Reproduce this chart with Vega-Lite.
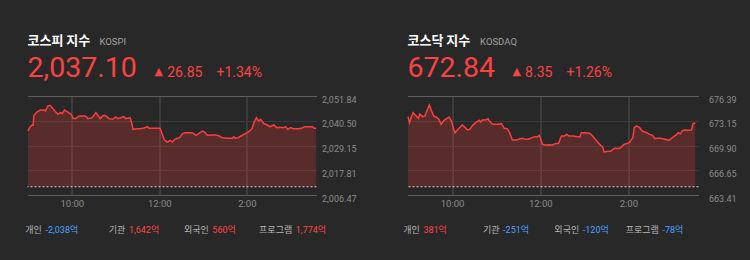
{
  "$schema": "https://vega.github.io/schema/vega-lite/v6.json",
  "background": "#282828",
  "padding": {"left": 24.5, "top": 35, "right": 20, "bottom": 32},
  "autosize": {"type": "pad"},
  "config": {
    "view": {"stroke": null},
    "text": {"font": "Roboto, Noto Sans CJK KR"}
  },
  "datasets": {
    "kospi": [
      {"time":"2019-09-04T09:00","value":2035.80},{"time":"2019-09-04T09:02","value":2037.33},{"time":"2019-09-04T09:05","value":2038.40},{"time":"2019-09-04T09:07","value":2038.40},{"time":"2019-09-04T09:08","value":2042.98},{"time":"2019-09-04T09:12","value":2044.51},{"time":"2019-09-04T09:17","value":2045.42},{"time":"2019-09-04T09:22","value":2045.42},{"time":"2019-09-04T09:24","value":2044.97},{"time":"2019-09-04T09:27","value":2047.26},{"time":"2019-09-04T09:30","value":2047.56},{"time":"2019-09-04T09:33","value":2046.49},{"time":"2019-09-04T09:38","value":2044.51},{"time":"2019-09-04T09:41","value":2043.44},{"time":"2019-09-04T09:44","value":2044.20},{"time":"2019-09-04T09:47","value":2043.90},{"time":"2019-09-04T09:50","value":2045.42},{"time":"2019-09-04T09:54","value":2044.51},{"time":"2019-09-04T09:59","value":2043.44},{"time":"2019-09-04T10:02","value":2041.60},{"time":"2019-09-04T10:05","value":2041.45},{"time":"2019-09-04T10:10","value":2042.67},{"time":"2019-09-04T10:17","value":2042.67},{"time":"2019-09-04T10:20","value":2042.37},{"time":"2019-09-04T10:22","value":2041.45},{"time":"2019-09-04T10:28","value":2041.91},{"time":"2019-09-04T10:33","value":2044.20},{"time":"2019-09-04T10:36","value":2042.98},{"time":"2019-09-04T10:39","value":2041.45},{"time":"2019-09-04T10:42","value":2042.67},{"time":"2019-09-04T10:45","value":2042.98},{"time":"2019-09-04T10:48","value":2042.37},{"time":"2019-09-04T10:51","value":2041.45},{"time":"2019-09-04T10:56","value":2041.15},{"time":"2019-09-04T11:00","value":2042.22},{"time":"2019-09-04T11:03","value":2041.45},{"time":"2019-09-04T11:07","value":2041.91},{"time":"2019-09-04T11:11","value":2042.37},{"time":"2019-09-04T11:14","value":2041.45},{"time":"2019-09-04T11:18","value":2041.76},{"time":"2019-09-04T11:20","value":2041.91},{"time":"2019-09-04T11:22","value":2039.62},{"time":"2019-09-04T11:24","value":2036.56},{"time":"2019-09-04T11:30","value":2036.87},{"time":"2019-09-04T11:34","value":2036.87},{"time":"2019-09-04T11:39","value":2037.17},{"time":"2019-09-04T11:44","value":2037.79},{"time":"2019-09-04T11:46","value":2037.02},{"time":"2019-09-04T11:50","value":2037.02},{"time":"2019-09-04T11:57","value":2037.02},{"time":"2019-09-04T12:01","value":2037.02},{"time":"2019-09-04T12:04","value":2034.27},{"time":"2019-09-04T12:07","value":2031.68},{"time":"2019-09-04T12:11","value":2030.76},{"time":"2019-09-04T12:15","value":2031.52},{"time":"2019-09-04T12:18","value":2030.76},{"time":"2019-09-04T12:21","value":2031.98},{"time":"2019-09-04T12:25","value":2032.44},{"time":"2019-09-04T12:28","value":2032.74},{"time":"2019-09-04T12:32","value":2034.73},{"time":"2019-09-04T12:36","value":2035.04},{"time":"2019-09-04T12:43","value":2035.04},{"time":"2019-09-04T12:47","value":2034.73},{"time":"2019-09-04T12:50","value":2033.81},{"time":"2019-09-04T12:54","value":2034.58},{"time":"2019-09-04T12:59","value":2035.80},{"time":"2019-09-04T13:02","value":2035.34},{"time":"2019-09-04T13:06","value":2033.81},{"time":"2019-09-04T13:13","value":2033.97},{"time":"2019-09-04T13:17","value":2033.97},{"time":"2019-09-04T13:22","value":2033.51},{"time":"2019-09-04T13:26","value":2032.74},{"time":"2019-09-04T13:33","value":2032.44},{"time":"2019-09-04T13:40","value":2032.44},{"time":"2019-09-04T13:42","value":2033.20},{"time":"2019-09-04T13:45","value":2032.44},{"time":"2019-09-04T13:48","value":2032.74},{"time":"2019-09-04T13:52","value":2033.51},{"time":"2019-09-04T13:58","value":2034.58},{"time":"2019-09-04T14:04","value":2035.80},{"time":"2019-09-04T14:07","value":2036.87},{"time":"2019-09-04T14:10","value":2039.92},{"time":"2019-09-04T14:13","value":2041.91},{"time":"2019-09-04T14:16","value":2040.38},{"time":"2019-09-04T14:19","value":2041.15},{"time":"2019-09-04T14:23","value":2039.31},{"time":"2019-09-04T14:28","value":2038.55},{"time":"2019-09-04T14:32","value":2037.79},{"time":"2019-09-04T14:37","value":2038.55},{"time":"2019-09-04T14:41","value":2037.33},{"time":"2019-09-04T14:45","value":2037.48},{"time":"2019-09-04T14:50","value":2037.33},{"time":"2019-09-04T14:53","value":2037.79},{"time":"2019-09-04T14:56","value":2036.56},{"time":"2019-09-04T15:00","value":2037.33},{"time":"2019-09-04T15:04","value":2036.87},{"time":"2019-09-04T15:11","value":2036.87},{"time":"2019-09-04T15:16","value":2037.17},{"time":"2019-09-04T15:19","value":2037.79},{"time":"2019-09-04T15:25","value":2037.79},{"time":"2019-09-04T15:30","value":2037.79},{"time":"2019-09-04T15:32","value":2037.02},{"time":"2019-09-04T15:35","value":2037.10}
    ],
    "kosdaq": [
      {"time":"2019-09-04T09:00","value":673.68},{"time":"2019-09-04T09:02","value":672.89},{"time":"2019-09-04T09:04","value":673.55},{"time":"2019-09-04T09:07","value":674.20},{"time":"2019-09-04T09:11","value":673.77},{"time":"2019-09-04T09:14","value":673.46},{"time":"2019-09-04T09:16","value":674.03},{"time":"2019-09-04T09:20","value":673.68},{"time":"2019-09-04T09:23","value":673.77},{"time":"2019-09-04T09:25","value":674.29},{"time":"2019-09-04T09:29","value":675.21},{"time":"2019-09-04T09:32","value":674.42},{"time":"2019-09-04T09:35","value":673.77},{"time":"2019-09-04T09:38","value":673.64},{"time":"2019-09-04T09:42","value":673.33},{"time":"2019-09-04T09:45","value":672.68},{"time":"2019-09-04T09:49","value":673.20},{"time":"2019-09-04T09:53","value":673.46},{"time":"2019-09-04T09:56","value":673.64},{"time":"2019-09-04T09:59","value":673.11},{"time":"2019-09-04T10:02","value":672.11},{"time":"2019-09-04T10:04","value":671.58},{"time":"2019-09-04T10:08","value":672.02},{"time":"2019-09-04T10:14","value":672.59},{"time":"2019-09-04T10:18","value":672.24},{"time":"2019-09-04T10:21","value":671.93},{"time":"2019-09-04T10:24","value":672.02},{"time":"2019-09-04T10:28","value":672.54},{"time":"2019-09-04T10:32","value":672.89},{"time":"2019-09-04T10:37","value":673.20},{"time":"2019-09-04T10:39","value":672.98},{"time":"2019-09-04T10:41","value":673.24},{"time":"2019-09-04T10:46","value":673.29},{"time":"2019-09-04T10:49","value":673.42},{"time":"2019-09-04T10:50","value":673.20},{"time":"2019-09-04T10:54","value":672.76},{"time":"2019-09-04T10:57","value":672.68},{"time":"2019-09-04T11:03","value":672.68},{"time":"2019-09-04T11:07","value":672.76},{"time":"2019-09-04T11:11","value":672.15},{"time":"2019-09-04T11:15","value":672.11},{"time":"2019-09-04T11:18","value":671.67},{"time":"2019-09-04T11:22","value":670.62},{"time":"2019-09-04T11:28","value":670.62},{"time":"2019-09-04T11:31","value":670.71},{"time":"2019-09-04T11:36","value":670.84},{"time":"2019-09-04T11:39","value":670.71},{"time":"2019-09-04T11:43","value":670.71},{"time":"2019-09-04T11:47","value":670.84},{"time":"2019-09-04T11:52","value":671.06},{"time":"2019-09-04T11:56","value":671.02},{"time":"2019-09-04T11:59","value":671.23},{"time":"2019-09-04T12:03","value":670.05},{"time":"2019-09-04T12:07","value":669.97},{"time":"2019-09-04T12:12","value":670.01},{"time":"2019-09-04T12:17","value":669.97},{"time":"2019-09-04T12:20","value":670.14},{"time":"2019-09-04T12:25","value":670.19},{"time":"2019-09-04T12:27","value":670.71},{"time":"2019-09-04T12:29","value":671.15},{"time":"2019-09-04T12:33","value":671.15},{"time":"2019-09-04T12:36","value":671.36},{"time":"2019-09-04T12:39","value":671.15},{"time":"2019-09-04T12:45","value":671.15},{"time":"2019-09-04T12:51","value":671.06},{"time":"2019-09-04T12:54","value":671.02},{"time":"2019-09-04T12:56","value":671.58},{"time":"2019-09-04T13:00","value":671.58},{"time":"2019-09-04T13:07","value":671.50},{"time":"2019-09-04T13:10","value":671.28},{"time":"2019-09-04T13:15","value":670.71},{"time":"2019-09-04T13:18","value":670.36},{"time":"2019-09-04T13:21","value":670.05},{"time":"2019-09-04T13:25","value":669.70},{"time":"2019-09-04T13:27","value":669.05},{"time":"2019-09-04T13:32","value":669.14},{"time":"2019-09-04T13:36","value":669.14},{"time":"2019-09-04T13:39","value":669.40},{"time":"2019-09-04T13:42","value":669.57},{"time":"2019-09-04T13:47","value":669.48},{"time":"2019-09-04T13:51","value":669.75},{"time":"2019-09-04T13:54","value":670.05},{"time":"2019-09-04T13:59","value":670.19},{"time":"2019-09-04T14:02","value":670.36},{"time":"2019-09-04T14:06","value":670.93},{"time":"2019-09-04T14:08","value":672.24},{"time":"2019-09-04T14:11","value":672.46},{"time":"2019-09-04T14:15","value":672.28},{"time":"2019-09-04T14:19","value":671.80},{"time":"2019-09-04T14:25","value":671.58},{"time":"2019-09-04T14:29","value":671.36},{"time":"2019-09-04T14:33","value":671.23},{"time":"2019-09-04T14:36","value":670.80},{"time":"2019-09-04T14:40","value":670.84},{"time":"2019-09-04T14:44","value":670.84},{"time":"2019-09-04T14:50","value":670.71},{"time":"2019-09-04T14:55","value":670.58},{"time":"2019-09-04T15:00","value":670.93},{"time":"2019-09-04T15:05","value":671.28},{"time":"2019-09-04T15:08","value":671.58},{"time":"2019-09-04T15:11","value":671.45},{"time":"2019-09-04T15:13","value":671.80},{"time":"2019-09-04T15:16","value":671.93},{"time":"2019-09-04T15:21","value":671.89},{"time":"2019-09-04T15:26","value":671.93},{"time":"2019-09-04T15:28","value":672.76},{"time":"2019-09-04T15:31","value":672.84}
    ],
    "kospiInfo": [{"name":"코스피 지수","code":"KOSPI","close":2037.10,"change":26.85,"pct":0.0134}],
    "kosdaqInfo": [{"name":"코스닥 지수","code":"KOSDAQ","close":672.84,"change":8.35,"pct":0.0126}],
    "kospiFlow": [
      {"investor":"개인","amount":-2038,"flow":"-2,038억"},
      {"investor":"기관","amount":1642,"flow":"1,642억"},
      {"investor":"외국인","amount":560,"flow":"560억"},
      {"investor":"프로그램","amount":1774,"flow":"1,774억"}
    ],
    "kosdaqFlow": [
      {"investor":"개인","amount":381,"flow":"381억"},
      {"investor":"기관","amount":-251,"flow":"-251억"},
      {"investor":"외국인","amount":-120,"flow":"-120억"},
      {"investor":"프로그램","amount":-78,"flow":"-78억"}
    ]
  },
  "spacing": 46,
  "hconcat": [
    {
      "spacing": 17,
      "vconcat": [
        {
          "width": 289,
          "height": 99,
          "layer": [
            {
              "data": {"name": "kospi"},
              "mark": {"type": "area", "fill": "#ff3c3c", "fillOpacity": 0.23},
              "encoding": {
                "x": {"field": "time", "type": "temporal",
                  "scale": {"domain": [{"year":2019,"month":9,"date":4,"hours":8,"minutes":59,"seconds":15},{"year":2019,"month":9,"date":4,"hours":15,"minutes":35,"seconds":30}]},
                  "axis": {"values": [{"year":2019,"month":9,"date":4,"hours":10},{"year":2019,"month":9,"date":4,"hours":12},{"year":2019,"month":9,"date":4,"hours":14}],
                    "format": "%-I:%M", "title": null, "grid": true, "gridColor": "#505050", "domain": false, "ticks": false, "tickCount": 10,
                    "labelColor": "#8c8c8c", "labelFont": "Roboto", "labelFontSize": 9.5, "labelPadding": 3}},
                "y": {"field": "value", "type": "quantitative",
                  "scale": {"domain": [2006.47, 2051.84], "zero": false, "nice": false},
                  "axis": {"orient": "right", "values": [2006.47, 2017.81, 2029.15, 2040.50, 2051.84], "tickCount": 10, "format": ",.2f", "title": null, "labelOverlap": false,
                    "grid": true, "gridColor": {"condition": {"test": "datum.value < 2006.5 || datum.value > 2051.8", "value": "#5e5e5e"}, "value": "#3a3a3a"},
                    "domain": false, "ticks": false, "labelColor": "#8c8c8c", "labelFont": "Roboto", "labelFontSize": 9, "labelPadding": 5, "labelOffset": 3}},
                "y2": {"datum": 2010.25}
              }
            },
            {
              "data": {"name": "kospi"},
              "mark": {"type": "line", "color": "#ff3d3d", "strokeWidth": 1.5},
              "encoding": {
                "x": {"field": "time", "type": "temporal"},
                "y": {"field": "value", "type": "quantitative"}
              }
            },
            {
              "data": {"values": [{}]},
              "mark": {"type": "rule", "color": "#e6cccc", "strokeWidth": 1, "strokeDash": [2, 2]},
              "encoding": {"y": {"datum": 2010.25}}
            },
            {
              "data": {"name": "kospiInfo"},
              "mark": {"type": "text", "align": "left", "baseline": "alphabetic", "dy": -51, "font": "Noto Sans CJK KR", "fontWeight": "bold", "fontSize": 13, "color": "#ffffff"},
              "encoding": {"x": {"datum": {"year":2019,"month":9,"date":4,"hours":8,"minutes":59,"seconds":15}, "type": "temporal"}, "y": {"datum": 2051.84}, "text": {"field": "name"}}
            },
            {
              "data": {"name": "kospiInfo"},
              "mark": {"type": "text", "align": "left", "baseline": "alphabetic", "dx": 72, "dy": -51, "font": "Roboto", "fontSize": 9.5, "color": "#a0a0a0"},
              "encoding": {"x": {"datum": {"year":2019,"month":9,"date":4,"hours":8,"minutes":59,"seconds":15}, "type": "temporal"}, "y": {"datum": 2051.84}, "text": {"field": "code"}}
            },
            {
              "data": {"name": "kospiInfo"},
              "mark": {"type": "text", "align": "left", "baseline": "alphabetic", "dy": -19, "font": "Roboto", "fontSize": 28.5, "color": "#ff4242"},
              "encoding": {"x": {"datum": {"year":2019,"month":9,"date":4,"hours":8,"minutes":59,"seconds":15}, "type": "temporal"}, "y": {"datum": 2051.84}, "text": {"field": "close", "format": ",.2f"}}
            },
            {
              "data": {"name": "kospiInfo"},
              "mark": {"type": "text", "align": "left", "baseline": "alphabetic", "dx": 127, "dy": -21, "font": "DejaVu Sans", "fontSize": 11, "color": "#ff4242", "text": "▲"},
              "encoding": {"x": {"datum": {"year":2019,"month":9,"date":4,"hours":8,"minutes":59,"seconds":15}, "type": "temporal"}, "y": {"datum": 2051.84}}
            },
            {
              "data": {"name": "kospiInfo"},
              "mark": {"type": "text", "align": "left", "baseline": "alphabetic", "dx": 139.7, "dy": -19, "font": "Roboto", "fontSize": 14, "color": "#ff4242"},
              "encoding": {"x": {"datum": {"year":2019,"month":9,"date":4,"hours":8,"minutes":59,"seconds":15}, "type": "temporal"}, "y": {"datum": 2051.84}, "text": {"field": "change", "format": ".2f"}}
            },
            {
              "data": {"name": "kospiInfo"},
              "mark": {"type": "text", "align": "left", "baseline": "alphabetic", "dx": 189, "dy": -19, "font": "Roboto", "fontSize": 14, "color": "#ff4242"},
              "encoding": {"x": {"datum": {"year":2019,"month":9,"date":4,"hours":8,"minutes":59,"seconds":15}, "type": "temporal"}, "y": {"datum": 2051.84}, "text": {"field": "pct", "format": "+.2%"}}
            }
          ]
        },
        {
          "width": 282.7,
          "height": 10,
          "data": {"name": "kospiFlow"},
          "encoding": {"x": {"field": "investor", "type": "nominal", "sort": null, "scale": {"type": "point", "padding": 0.194}, "axis": null}},
          "layer": [
            {"mark": {"type": "text", "align": "right", "baseline": "middle", "dx": -1.8, "font": "Noto Sans CJK KR", "fontSize": 9, "color": "#b4b4b4"},
             "encoding": {"text": {"field": "investor"}}},
            {"mark": {"type": "text", "align": "left", "baseline": "middle", "dx": 1.8, "fontSize": 9},
             "encoding": {"text": {"field": "flow"}, "color": {"condition": {"test": "datum.amount < 0", "value": "#4aa3ff"}, "value": "#ff4545"}}}
          ]
        }
      ]
    },
    {
      "spacing": 17,
      "vconcat": [
        {
          "width": 291,
          "height": 99,
          "layer": [
            {
              "data": {"name": "kosdaq"},
              "mark": {"type": "area", "fill": "#ff3c3c", "fillOpacity": 0.23},
              "encoding": {
                "x": {"field": "time", "type": "temporal",
                  "scale": {"domain": [{"year":2019,"month":9,"date":4,"hours":8,"minutes":59,"seconds":15},{"year":2019,"month":9,"date":4,"hours":15,"minutes":35,"seconds":30}]},
                  "axis": {"values": [{"year":2019,"month":9,"date":4,"hours":10},{"year":2019,"month":9,"date":4,"hours":12},{"year":2019,"month":9,"date":4,"hours":14}],
                    "format": "%-I:%M", "title": null, "grid": true, "gridColor": "#505050", "domain": false, "ticks": false, "tickCount": 10,
                    "labelColor": "#8c8c8c", "labelFont": "Roboto", "labelFontSize": 9.5, "labelPadding": 3}},
                "y": {"field": "value", "type": "quantitative",
                  "scale": {"domain": [663.41, 676.39], "zero": false, "nice": false},
                  "axis": {"orient": "right", "values": [663.41, 666.65, 669.90, 673.15, 676.39], "tickCount": 10, "format": ".2f", "title": null, "labelOverlap": false,
                    "grid": true, "gridColor": {"condition": {"test": "datum.value < 663.5 || datum.value > 676.3", "value": "#5e5e5e"}, "value": "#3a3a3a"},
                    "domain": false, "ticks": false, "labelColor": "#8c8c8c", "labelFont": "Roboto", "labelFontSize": 9, "labelPadding": 10, "labelOffset": 3}},
                "y2": {"datum": 664.49}
              }
            },
            {
              "data": {"name": "kosdaq"},
              "mark": {"type": "line", "color": "#ff3d3d", "strokeWidth": 1.5},
              "encoding": {
                "x": {"field": "time", "type": "temporal"},
                "y": {"field": "value", "type": "quantitative"}
              }
            },
            {
              "data": {"values": [{}]},
              "mark": {"type": "rule", "color": "#e6cccc", "strokeWidth": 1, "strokeDash": [2, 2]},
              "encoding": {"y": {"datum": 664.49}}
            },
            {
              "data": {"name": "kosdaqInfo"},
              "mark": {"type": "text", "align": "left", "baseline": "alphabetic", "dy": -51, "font": "Noto Sans CJK KR", "fontWeight": "bold", "fontSize": 13, "color": "#ffffff"},
              "encoding": {"x": {"datum": {"year":2019,"month":9,"date":4,"hours":8,"minutes":59,"seconds":15}, "type": "temporal"}, "y": {"datum": 676.39}, "text": {"field": "name"}}
            },
            {
              "data": {"name": "kosdaqInfo"},
              "mark": {"type": "text", "align": "left", "baseline": "alphabetic", "dx": 72.6, "dy": -51, "font": "Roboto", "fontSize": 9.5, "color": "#a0a0a0"},
              "encoding": {"x": {"datum": {"year":2019,"month":9,"date":4,"hours":8,"minutes":59,"seconds":15}, "type": "temporal"}, "y": {"datum": 676.39}, "text": {"field": "code"}}
            },
            {
              "data": {"name": "kosdaqInfo"},
              "mark": {"type": "text", "align": "left", "baseline": "alphabetic", "dy": -19, "font": "Roboto", "fontSize": 28.5, "color": "#ff4242"},
              "encoding": {"x": {"datum": {"year":2019,"month":9,"date":4,"hours":8,"minutes":59,"seconds":15}, "type": "temporal"}, "y": {"datum": 676.39}, "text": {"field": "close", "format": ".2f"}}
            },
            {
              "data": {"name": "kosdaqInfo"},
              "mark": {"type": "text", "align": "left", "baseline": "alphabetic", "dx": 105, "dy": -21, "font": "DejaVu Sans", "fontSize": 11, "color": "#ff4242", "text": "▲"},
              "encoding": {"x": {"datum": {"year":2019,"month":9,"date":4,"hours":8,"minutes":59,"seconds":15}, "type": "temporal"}, "y": {"datum": 676.39}}
            },
            {
              "data": {"name": "kosdaqInfo"},
              "mark": {"type": "text", "align": "left", "baseline": "alphabetic", "dx": 117.6, "dy": -19, "font": "Roboto", "fontSize": 14, "color": "#ff4242"},
              "encoding": {"x": {"datum": {"year":2019,"month":9,"date":4,"hours":8,"minutes":59,"seconds":15}, "type": "temporal"}, "y": {"datum": 676.39}, "text": {"field": "change", "format": ".2f"}}
            },
            {
              "data": {"name": "kosdaqInfo"},
              "mark": {"type": "text", "align": "left", "baseline": "alphabetic", "dx": 159, "dy": -19, "font": "Roboto", "fontSize": 14, "color": "#ff4242"},
              "encoding": {"x": {"datum": {"year":2019,"month":9,"date":4,"hours":8,"minutes":59,"seconds":15}, "type": "temporal"}, "y": {"datum": 676.39}, "text": {"field": "pct", "format": "+.2%"}}
            }
          ]
        },
        {
          "width": 267.3,
          "height": 10,
          "data": {"name": "kosdaqFlow"},
          "encoding": {"x": {"field": "investor", "type": "nominal", "sort": null, "scale": {"type": "point", "padding": 0.177}, "axis": null}},
          "layer": [
            {"mark": {"type": "text", "align": "right", "baseline": "middle", "dx": -1.8, "font": "Noto Sans CJK KR", "fontSize": 9, "color": "#b4b4b4"},
             "encoding": {"text": {"field": "investor"}}},
            {"mark": {"type": "text", "align": "left", "baseline": "middle", "dx": 1.8, "fontSize": 9},
             "encoding": {"text": {"field": "flow"}, "color": {"condition": {"test": "datum.amount < 0", "value": "#4aa3ff"}, "value": "#ff4545"}}}
          ]
        }
      ]
    }
  ]
}
